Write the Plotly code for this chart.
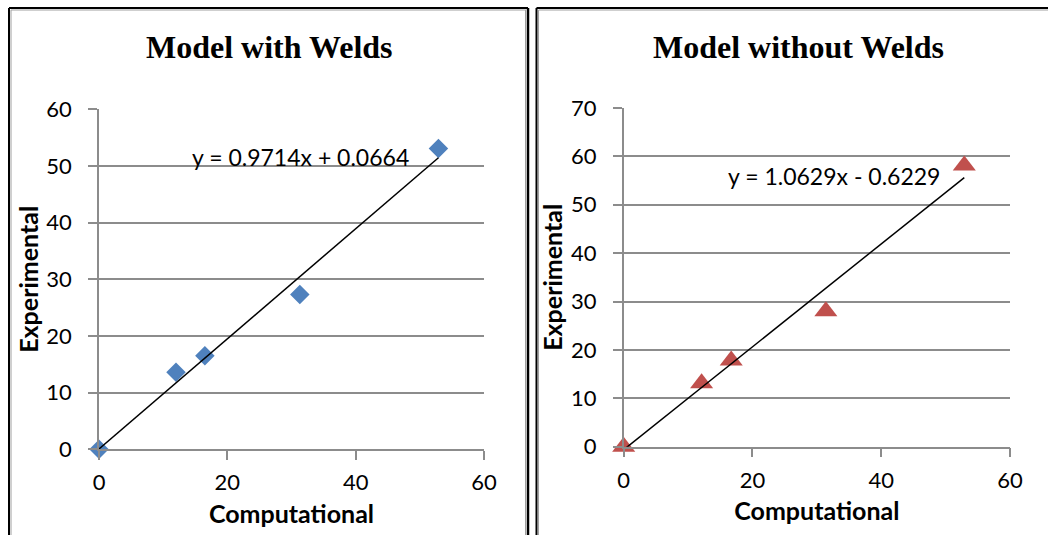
import plotly.graph_objects as go

# ---- data ----
comp_with = [0, 12.0, 16.5, 31.3, 52.9]
exp_with = [0, 13.6, 16.5, 27.3, 53.1]
comp_without = [0, 12.1, 16.7, 31.4, 52.9]
exp_without = [0, 13.1, 17.8, 28.0, 58.1]

fit_with = (0.9714, 0.0664)
fit_without = (1.0629, -0.6229)
eq_with = "y = 0.9714x + 0.0664"
eq_without = "y = 1.0629x - 0.6229"

titles = ["Model with Welds", "Model without Welds"]
x_ticks = [0, 20, 40, 60]
y_ticks_with = [0, 10, 20, 30, 40, 50, 60]
y_ticks_without = [0, 10, 20, 30, 40, 50, 60, 70]

W, H = 1048, 535


def px(x):
    return x / W


def py(y):
    return 1 - y / H


BLUE = "#4F81BD"
RED = "#C0504D"
GRID = "#8C8C8C"
TICKFONT = dict(family="Lato, Open Sans, sans-serif", size=22, color="black")
AXTITLE = dict(family="Lato, Open Sans, sans-serif", size=25, color="black")

fig = go.Figure()

fig.add_trace(go.Scatter(x=comp_with, y=exp_with, mode="markers", cliponaxis=False,
                         marker=dict(symbol="diamond", size=15, color=BLUE),
                         xaxis="x", yaxis="y", showlegend=False))
xw = [min(comp_with), max(comp_with)]
fig.add_trace(go.Scatter(x=xw, y=[fit_with[0] * v + fit_with[1] for v in xw],
                         mode="lines", line=dict(color="black", width=1.5),
                         xaxis="x", yaxis="y", showlegend=False))

fig.add_trace(go.Scatter(x=comp_without, y=exp_without, mode="markers", cliponaxis=False,
                         marker=dict(symbol="triangle-up", size=20, color=RED),
                         xaxis="x2", yaxis="y2", showlegend=False))
xo = [min(comp_without), max(comp_without)]
fig.add_trace(go.Scatter(x=xo, y=[fit_without[0] * v + fit_without[1] for v in xo],
                         mode="lines", line=dict(color="black", width=1.5),
                         xaxis="x2", yaxis="y2", showlegend=False))

common_x = dict(range=[0, 60], tickvals=x_ticks, showgrid=False, zeroline=False,
                showline=True, linecolor=GRID, linewidth=1.5, ticks="outside",
                ticklen=9, tickcolor=GRID, tickwidth=1.5, tickfont=TICKFONT,
                ticklabelstandoff=4, automargin=False,
                title=dict(text="<b>Computational</b>", font=AXTITLE, standoff=11))
common_y = dict(showgrid=True, gridcolor=GRID, gridwidth=1.5, zeroline=False,
                showline=True, linecolor=GRID, linewidth=1.5, ticks="outside",
                ticklen=9, tickcolor=GRID, tickwidth=1.5, tickfont=TICKFONT,
                ticklabelstandoff=12, automargin=False,
                title=dict(text="<b>Experimental</b>", font=AXTITLE, standoff=1))

fig.update_layout(
    width=W, height=H, margin=dict(l=0, r=0, t=0, b=0, pad=0, autoexpand=False),
    paper_bgcolor="white", plot_bgcolor="white", showlegend=False,
    xaxis=dict(common_x, domain=[px(99), px(484)], anchor="y"),
    yaxis=dict(common_y, domain=[py(449.3), py(109.3)], range=[0, 60],
               tickvals=y_ticks_with, anchor="x"),
    xaxis2=dict(common_x, domain=[px(623.7), px(1010)], anchor="y2"),
    yaxis2=dict(common_y, domain=[py(446.7), py(107.9)], range=[0, 70],
                tickvals=y_ticks_without, anchor="x2"),
)

TITLEFONT = dict(family="Liberation Serif, Times New Roman, serif", size=32, color="black")
EQFONT = dict(family="Lato, Open Sans, sans-serif", size=23, color="black")
fig.add_annotation(text="<b>%s</b>" % titles[0], x=px(269), y=py(47), xref="paper", yref="paper",
                   showarrow=False, font=TITLEFONT, xanchor="center", yanchor="middle")
fig.add_annotation(text="<b>%s</b>" % titles[1], x=px(798), y=py(47), xref="paper", yref="paper",
                   showarrow=False, font=TITLEFONT, xanchor="center", yanchor="middle")
fig.add_annotation(text=eq_with, x=px(300), y=py(157), xref="paper", yref="paper",
                   showarrow=False, font=EQFONT, xanchor="center", yanchor="middle")
fig.add_annotation(text=eq_without, x=px(834), y=py(176), xref="paper", yref="paper",
                   showarrow=False, font=EQFONT, xanchor="center", yanchor="middle")

# panel frames
def seg(x0, y0, x1, y1, color, width):
    fig.add_shape(type="line", xref="paper", yref="paper",
                  x0=px(x0), y0=py(y0), x1=px(x1), y1=py(y1),
                  line=dict(color=color, width=width))

# left panel
seg(11, 10, 11, H, "#A0A0A0", 1)
seg(11, 10, 526, 10, "#A0A0A0", 1)
seg(525.5, 10, 525.5, H, "#A0A0A0", 1)
seg(9, 8, 9, H, "black", 2)
seg(9, 8, 528, 8, "black", 2)
seg(528, 8, 528, H, "black", 2.5)
# right panel
seg(538.5, 10, 538.5, H, "#A0A0A0", 1)
seg(538.5, 10, W, 10, "#A0A0A0", 1)
seg(536.5, 8, 536.5, H, "black", 2)
seg(536.5, 8, W, 8, "black", 2)

fig.write_html("out.html", config={"displayModeBar": False},
               post_script="document.body.style.margin='0';document.body.style.overflow='hidden';")
